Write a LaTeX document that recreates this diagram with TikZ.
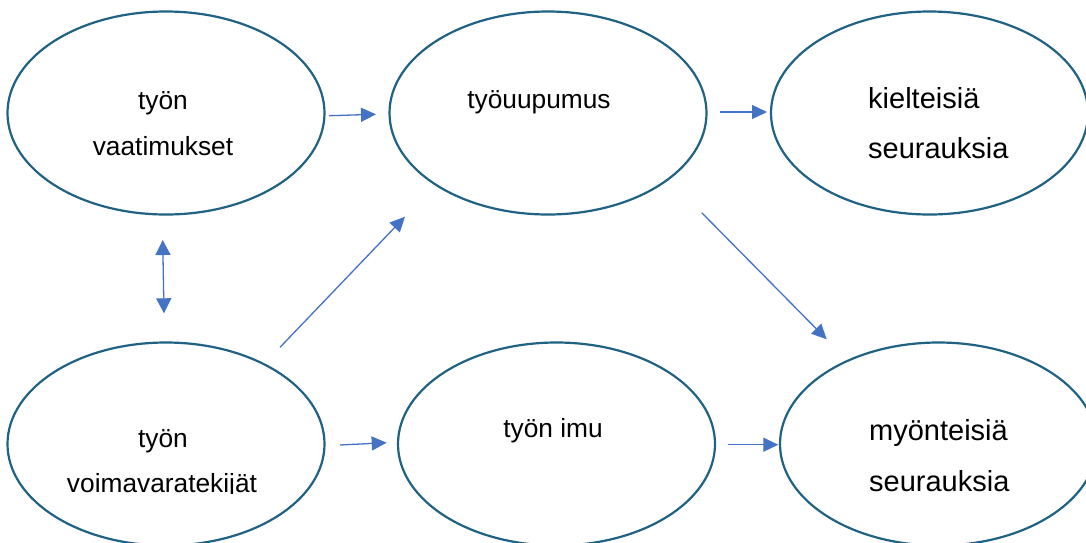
\documentclass[tikz,border=0pt]{standalone}
\usepackage{fontspec}
\setmainfont{Liberation Sans}
\usetikzlibrary{shapes.geometric,arrows.meta}
\definecolor{ellc}{HTML}{1F6283}
\definecolor{arrc}{HTML}{4472C4}
\begin{document}
\begin{tikzpicture}[x=1pt,y=-1pt,
  oval/.style={ellipse, draw=ellc, line width=2.2pt, minimum width=317pt, minimum height=203pt, inner sep=0pt},
  lbl/.style={font=\fontsize{26.3}{30}\selectfont, inner sep=0pt, anchor=base},
  lblbig/.style={font=\fontsize{29}{33}\selectfont, inner sep=0pt, anchor=base west},
  conn/.style={draw=arrc, line width=1.3pt, -{Triangle[length=15pt,width=14pt]}},
  biconn/.style={draw=arrc, line width=1.3pt, {Triangle[length=15pt,width=15pt]}-{Triangle[length=15pt,width=15pt]}},
]
\useasboundingbox (0,0) rectangle (1086,542);
\clip (0,0) rectangle (1086,542);
\fill[white] (0,0) rectangle (1086,542);
% ellipses
\node[oval] (vaat) at (166,113) {};
\node[oval] (uup) at (548,113) {};
\node[oval] (kiel) at (929.5,113) {};
\node[oval] (voim) at (166,444) {};
\node[oval] (imu) at (556.5,444) {};
\node[oval] (myon) at (938.5,444) {};
% texts
\node[lbl] (t1a) at (163,109) {työn};
\node[lbl] (t1b) at (163,155) {vaatimukset};
\node[lbl] (t2) at (539,108) {työuupumus};
\node[lblbig] (t3a) at (868,108) {kielteisiä};
\node[lblbig] (t3b) at (868,158) {seurauksia};
\node[lbl] (t4a) at (163,447) {työn};
\begin{scope}
\clip (0,0) rectangle (1086,493);
\node[lbl] (t4b) at (162,492) {voimavaratekijät};
\end{scope}
\node[lbl] (t5) at (553,437) {työn imu};
\node[lblbig] (t6a) at (869,440) {myönteisiä};
\node[lblbig] (t6b) at (869,491) {seurauksia};
% connector end points
\coordinate (a1s) at (329,115.7);
\coordinate (a1e) at (376,114.3);
\coordinate (a2s) at (720,112);
\coordinate (a2e) at (767,112);
\coordinate (a3s) at (162.7,240);
\coordinate (a3e) at (164,313.3);
\coordinate (a4s) at (280,347.3);
\coordinate (a4e) at (405,216.7);
\coordinate (a5s) at (701.7,212.7);
\coordinate (a5e) at (826.7,339.3);
\coordinate (a6s) at (340,445);
\coordinate (a6e) at (386.7,442.7);
\coordinate (a7s) at (728.3,444.7);
\coordinate (a7e) at (778.3,444.7);
% connectors
\draw[conn] (a1s) -- (a1e);
\draw[conn] (a2s) -- (a2e);
\draw[biconn] (a3s) -- (a3e);
\draw[conn] (a4s) -- (a4e);
\draw[conn] (a5s) -- (a5e);
\draw[conn] (a6s) -- (a6e);
\draw[conn] (a7s) -- (a7e);
\end{tikzpicture}
\end{document}
